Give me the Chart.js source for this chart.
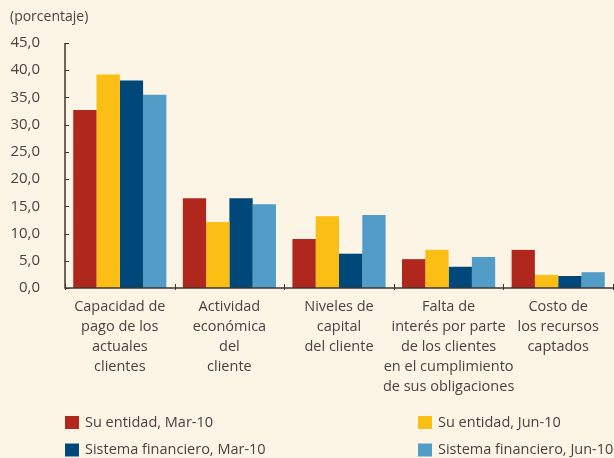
<!DOCTYPE html>
<html>
<head>
<meta charset="utf-8">
<script src="https://cdn.jsdelivr.net/npm/chart.js@4"></script>
<style>
  html, body { margin: 0; padding: 0; background: #fcf4e4; }
  #wrap { width: 614px; height: 458px; }
</style>
</head>
<body>
<div id="wrap"><canvas id="myChart" width="614" height="458"></canvas></div>
<script>
const categories = [
    ["Capacidad de", "pago de los", "actuales", "clientes"],
    ["Actividad", "económica", "del", "cliente"],
    ["Niveles de", "capital", "del cliente"],
    ["Falta de", "interés por parte", "de los clientes", "en el cumplimiento", "de sus obligaciones"],
    ["Costo de", "los recursos", "captados"]
];
const seriesNames = ["Su entidad, Mar-10", "Su entidad, Jun-10", "Sistema financiero, Mar-10", "Sistema financiero, Jun-10"];
const suEntidadMar = [32.7, 16.5, 9.0, 5.3, 7.0];
const suEntidadJun = [39.2, 12.1, 13.2, 7.0, 2.4];
const sistemaMar = [38.1, 16.5, 6.3, 3.9, 2.2];
const sistemaJun = [35.5, 15.4, 13.4, 5.7, 2.9];
const yMin = 0, yMax = 45, yStep = 5;
const unitLabel = "(porcentaje)";

const colors = ["#b0271d", "#fbbe15", "#00477a", "#529dc7"];
const textColor = "#4a4242";
const axisColor = "#3d3535";
const fontFamily = "'Open Sans', sans-serif";

const fmt = v => Number(v).toFixed(1).replace(".", ",");

// ticks inside the plot, title and two-column legend
const extras = {
    id: "extras",
    afterDraw(chart) {
        const ctx = chart.ctx;
        const x = chart.scales.x, y = chart.scales.y;
        const area = chart.chartArea;
        ctx.save();
        ctx.strokeStyle = axisColor;
        ctx.lineWidth = 1.5;
        ctx.beginPath();
        ctx.moveTo(area.left, y.getPixelForValue(yMax));
        ctx.lineTo(area.left, area.bottom);
        ctx.lineTo(area.right, area.bottom);
        ctx.stroke();
        ctx.lineWidth = 1;
        ctx.beginPath();
        for (let v = yMin; v <= yMax; v += yStep) {
            const py = Math.round(y.getPixelForValue(v)) + 0.5;
            ctx.moveTo(area.left, py);
            ctx.lineTo(area.left + 4, py);
        }
        const n = categories.length;
        for (let i = 0; i <= n; i++) {
            const px = Math.round(x.getPixelForValue(i - 0.5)) + 0.5;
            ctx.moveTo(px, area.bottom - 4);
            ctx.lineTo(px, area.bottom + 2);
        }
        ctx.stroke();

        ctx.fillStyle = textColor;
        ctx.font = "14px " + fontFamily;
        ctx.textBaseline = "middle";
        ctx.textAlign = "left";
        ctx.fillText(unitLabel, 10, 17);

        ctx.font = "14.5px " + fontFamily;
        const cols = [65, 418], rows = [422.5, 450];
        chart.data.datasets.forEach((ds, i) => {
            const lx = cols[i % 2], ly = rows[Math.floor(i / 2)];
            ctx.fillStyle = ds.backgroundColor;
            ctx.fillRect(lx, ly - 6.5, 14, 13);
            ctx.fillStyle = textColor;
            ctx.fillText(ds.label, lx + 20, ly);
        });
        ctx.restore();
    }
};

const data = {
    labels: categories,
    datasets: [suEntidadMar, suEntidadJun, sistemaMar, sistemaJun].map((vals, i) => ({
        label: seriesNames[i],
        data: vals,
        backgroundColor: colors[i],
        borderWidth: 0,
        categoryPercentage: 0.85,
        barPercentage: 1.0
    }))
};

let chart = new Chart(document.querySelector("#myChart"), {
    type: "bar",
    data: data,
    plugins: [extras],
    options: {
        responsive: false,
        animation: false,
        layout: { padding: { top: 43, right: 1, left: 0, bottom: 60 } },
        scales: {
            x: {
                grid: { display: false, drawTicks: false },
                border: { display: false },
                afterFit: s => { s.height = 110; },
                ticks: {
                    color: textColor,
                    padding: 9,
                    maxRotation: 0,
                    autoSkip: false,
                    font: { family: fontFamily, size: 14.5, lineHeight: "20px" }
                }
            },
            y: {
                min: yMin,
                max: yMax,
                grid: { display: false, drawTicks: false },
                border: { display: false },
                afterFit: s => { s.width = 65; },
                ticks: {
                    stepSize: yStep,
                    color: textColor,
                    padding: 25,
                    callback: v => fmt(v),
                    font: { family: fontFamily, size: 15 }
                }
            }
        },
        plugins: {
            legend: { display: false },
            tooltip: { enabled: false }
        }
    }
});
</script>
</body>
</html>
